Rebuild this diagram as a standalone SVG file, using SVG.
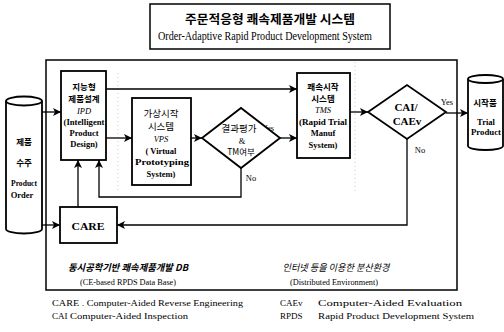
<svg xmlns="http://www.w3.org/2000/svg" width="504" height="332" viewBox="0 0 504 332">
<style>
.box{fill:#fff;stroke:#000;stroke-width:1.8}
.frame{fill:none;stroke:#000;stroke-width:1.5}
.ln{fill:none;stroke:#000;stroke-width:1.3}
.dot{fill:none;stroke:#bbb;stroke-width:0.8;stroke-dasharray:1 3}
.t{font-family:"Liberation Serif","Times New Roman",serif;font-weight:bold;font-size:8.5px;text-anchor:middle;fill:#000}
.k{font-family:"Noto Sans CJK KR","Noto Sans",sans-serif;font-weight:bold;font-size:8.5px;text-anchor:middle;fill:#000}
.lg{font-family:"Liberation Serif","Times New Roman",serif;font-size:9px;fill:#000}
.i{font-style:italic}
</style>
<defs>
<marker id="ah" viewBox="0 0 8 8" refX="8" refY="4" markerWidth="8" markerHeight="8" markerUnits="userSpaceOnUse" orient="auto">
<path d="M0,0 L8,4 L0,8 L2,4 z" fill="#000"/>
</marker>
</defs>
<rect width="504" height="332" fill="#fff"/>

<g id="title">
<rect x="150" y="4" width="240" height="45" class="frame"/>
<text x="270" y="24" class="k" style="font-size:12.5px" textLength="170" lengthAdjust="spacingAndGlyphs">주문적응형 쾌속제품개발 시스템</text>
<text x="265" y="40" class="lg" style="font-size:12px;text-anchor:middle" textLength="214" lengthAdjust="spacingAndGlyphs">Order-Adaptive Rapid Product Development System</text>
</g>

<g id="frame">
<rect x="46" y="60" width="411" height="230" class="frame"/>
<line x1="118" y1="73" x2="118" y2="190" class="dot"/>
<line x1="355" y1="62" x2="355" y2="193" class="dot"/>
<text x="128" y="271" class="k i" style="font-size:9.5px" textLength="120" lengthAdjust="spacingAndGlyphs">동시공학기반 쾌속제품개발 DB</text>
<text x="128" y="285" class="lg" style="text-anchor:middle" textLength="96" lengthAdjust="spacingAndGlyphs">(CE-based RPDS Data Base)</text>
<text x="336" y="271" class="k i" style="font-size:9.5px;font-weight:normal" textLength="107" lengthAdjust="spacingAndGlyphs">인터넷 등을 이용한 분산환경</text>
<text x="334" y="285" class="lg" style="text-anchor:middle" textLength="88" lengthAdjust="spacingAndGlyphs">(Distributed Environment)</text>
</g>

<g id="connectors">
<line x1="42" y1="112" x2="61" y2="112" class="ln" marker-end="url(#ah)"/>
<line x1="42" y1="225" x2="60" y2="225" class="ln" marker-end="url(#ah)"/>
<line x1="106" y1="138" x2="132" y2="138" class="ln" marker-end="url(#ah)"/>
<line x1="106" y1="89" x2="297" y2="89" class="ln" marker-end="url(#ah)"/>
<line x1="191" y1="138" x2="202" y2="138" class="ln" marker-end="url(#ah)"/>
<line x1="280" y1="138" x2="297" y2="138" class="ln" marker-end="url(#ah)"/>
<polyline points="241,168 241,197 99,197 99,160" class="ln" marker-end="url(#ah)"/>
<line x1="350" y1="112" x2="368" y2="112" class="ln" marker-end="url(#ah)"/>
<line x1="446" y1="113" x2="468" y2="113" class="ln" marker-end="url(#ah)"/>
<polyline points="407,139 407,225 117,225" class="ln" marker-end="url(#ah)"/>
<line x1="78" y1="207" x2="78" y2="160" class="ln" marker-end="url(#ah)"/>
<text x="268" y="131" class="t" style="font-weight:normal">Yes</text>
<text x="251" y="181" class="t" style="font-weight:normal">No</text>
<text x="447" y="105" class="t" style="font-weight:normal">Yes</text>
<text x="420" y="153" class="t" style="font-weight:normal">No</text>
</g>

<g id="product-order">
<path d="M6,101 L6,229 A18,4.5 0 0 0 42,229 L42,101" class="box"/>
<ellipse cx="24" cy="101" rx="18" ry="4.5" class="box"/>
<text x="24" y="145" class="k">제품</text>
<text x="24" y="166" class="k">수주</text>
<text x="24" y="186" class="t" textLength="26" lengthAdjust="spacingAndGlyphs">Product</text>
<text x="22" y="198" class="t">Order</text>
</g>

<g id="ipd">
<rect x="61" y="71" width="45" height="89" class="box"/>
<text x="84" y="90" class="k">지능형</text>
<text x="84" y="102" class="k">제품설계</text>
<text x="84" y="114" class="t i" style="font-weight:normal">IPD</text>
<text x="84" y="125" class="t" textLength="41" lengthAdjust="spacingAndGlyphs">(Intelligent</text>
<text x="84" y="136" class="t">Product</text>
<text x="84" y="147" class="t">Design)</text>
</g>

<g id="vps">
<rect x="132" y="98" width="59" height="87" class="box"/>
<text x="161" y="117" class="k" style="font-weight:normal;font-size:9.5px">가상시작</text>
<text x="161" y="130" class="k" style="font-weight:normal;font-size:9.5px">시스템</text>
<text x="161" y="142" class="t i" style="font-weight:normal">VPS</text>
<text x="161" y="153.5" class="t">( Virtual</text>
<text x="162" y="165" class="t" textLength="54" lengthAdjust="spacingAndGlyphs">Prototyping</text>
<text x="161" y="176.5" class="t">System)</text>
</g>

<g id="decision-tm">
<polygon points="202,138 241,108 280,138 241,168" class="box"/>
<text x="239" y="132" class="k" style="font-weight:normal;font-size:9.5px">결과평가</text>
<text x="242" y="143.5" class="t" style="font-weight:normal">&amp;</text>
<text x="241" y="155" class="k" style="font-weight:normal">TM여부</text>
</g>

<g id="rtms">
<rect x="297" y="73" width="53" height="85" class="box"/>
<text x="323" y="90" class="k">쾌속시작</text>
<text x="323" y="102" class="k">시스템</text>
<text x="323" y="113" class="t i" style="font-weight:normal">TMS</text>
<text x="323" y="125" class="t" textLength="48" lengthAdjust="spacingAndGlyphs">(Rapid Trial</text>
<text x="323" y="136" class="t">Manuf</text>
<text x="323" y="148" class="t">System)</text>
</g>

<g id="decision-cai">
<polygon points="368,112 407,85 446,112 407,139" class="box"/>
<text x="406" y="111" class="t" style="font-size:11px">CAI/</text>
<text x="407" y="125" class="t" style="font-size:11px">CAEv</text>
</g>

<g id="trial-product">
<path d="M468,79 L468,146 A17.5,4 0 0 0 503,146 L503,79" class="box"/>
<ellipse cx="485.5" cy="79" rx="17.5" ry="4" class="box"/>
<text x="485" y="106" class="k">시작품</text>
<text x="486" y="125" class="t">Trial</text>
<text x="486" y="135" class="t" textLength="30" lengthAdjust="spacingAndGlyphs">Product</text>
</g>

<g id="care">
<rect x="60" y="207" width="57" height="36" class="box"/>
<text x="88" y="230" class="t" style="font-size:11px" textLength="33" lengthAdjust="spacingAndGlyphs">CARE</text>
</g>

<g id="legend">
<text x="52" y="306" class="lg" textLength="191" lengthAdjust="spacingAndGlyphs">CARE . Computer-Aided Reverse Engineering</text>
<text x="52" y="319" class="lg">CAI</text>
<text x="70" y="319" class="lg" textLength="118" lengthAdjust="spacingAndGlyphs">Computer-Aided Inspection</text>
<text x="280" y="306" class="lg">CAEv</text>
<text x="318" y="306" class="lg" textLength="144" lengthAdjust="spacingAndGlyphs">Computer-Aided Evaluation</text>
<text x="280" y="319" class="lg">RPDS</text>
<text x="318" y="319" class="lg" textLength="156" lengthAdjust="spacingAndGlyphs">Rapid Product Development System</text>
</g>
</svg>
